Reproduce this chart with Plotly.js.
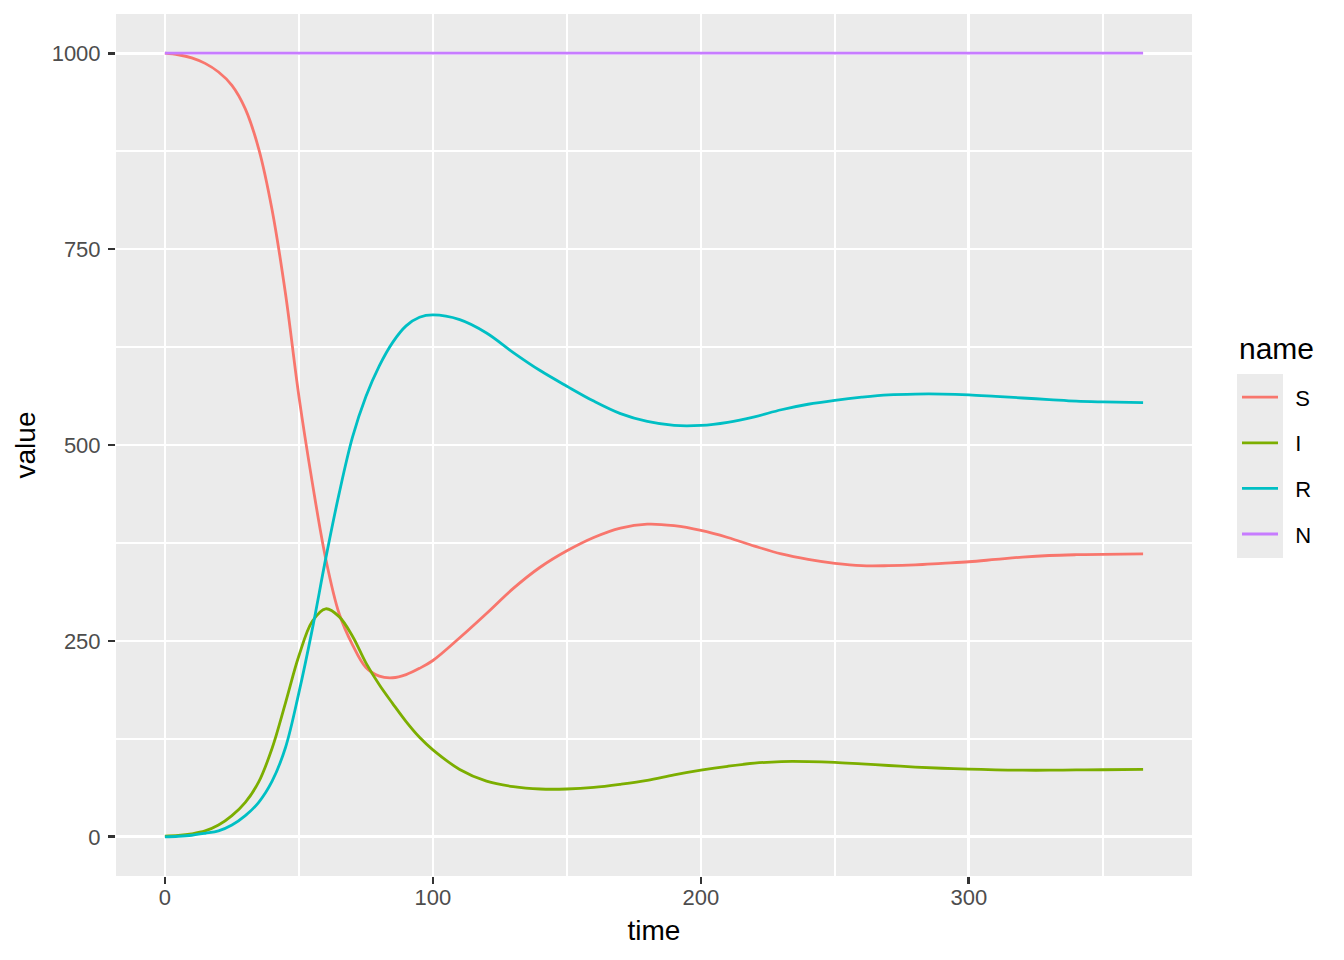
<!DOCTYPE html>
<html>
<head>
<meta charset="utf-8">
<script src="https://cdn.plot.ly/plotly-3.0.1.min.js"></script>
<style>html,body{margin:0;padding:0;background:#fff;}#chart{width:1344px;height:960px;}</style>
</head>
<body>
<div id="chart"></div>
<script>
const time = [0,5,10,15,20,25,30,35,40,45,50,55,60,65,70,75,80,85,90,95,100,110,120,130,140,150,160,170,180,190,200,210,220,230,240,250,260,270,280,290,300,310,320,330,340,350,365];
const S = [1000,998,994,987,976,959,929,878,800,693,562,452,355,285,245,216,205,203,207,215,225,254,285,317,344,365,382,394,399,397,391,382,371,361,354,349,346,346,347,349,351,354,357,359,360,360.5,361];
const I = [1,1.8,3.8,7.5,15,27,44,70,113,171,231,275,291,281,256,222,194,170,147,127,111,86,71,64,61,61,63,67,72,79,85,90,94,96,96,95,93,91,89,87.5,86.5,85.5,85,85,85.3,85.6,86];
const R = [0,0.7,2,4.5,7.5,15,27,44,71,114,184,265,355,438,510,562,601,631,652,663,666,660,643,618,595,575,556,540,530,525,525,529,536,545,552,557,561,564,565,565,564,562,560,558,556,555,554];
const N = [1000,1000,1000,1000,1000,1000,1000,1000,1000,1000,1000,1000,1000,1000,1000,1000,1000,1000,1000,1000,1000,1000,1000,1000,1000,1000,1000,1000,1000,1000,1000,1000,1000,1000,1000,1000,1000,1000,1000,1000,1000,1000,1000,1000,1000,1000,1000];
const seriesNames = ['S','I','R','N'];
const seriesValues = [S, I, R, N];
const seriesColors = ['#F8766D','#7CAE00','#00BFC4','#C77CFF'];
const xTicks = [0,100,200,300];
const yTicks = [0,250,500,750,1000];

const pad = '\u00A0\u00A0';
const traces = seriesNames.map((nm, i) => ({
  x: time, y: seriesValues[i], name: pad + nm, type: 'scatter', mode: 'lines',
  legendgroup: nm,
  line: {color: seriesColors[i], width: 2.8, shape: 'spline', smoothing: 1}
}));

const font = "'Liberation Sans', Arial, sans-serif";
const layout = {
  width: 1344, height: 960,
  margin: {l: 116, r: 152, t: 14, b: 84},
  paper_bgcolor: '#FFFFFF', plot_bgcolor: '#EBEBEB',
  font: {family: font, color: '#000000'},
  showlegend: true,
  legend: {
    x: (1237-116)/1076, y: 0.5796, xanchor: 'left', yanchor: 'top',
    bgcolor: 'rgba(0,0,0,0)', borderwidth: 0,
    font: {size: 22, color: '#000000', family: font},
    tracegroupgap: 14, traceorder: 'grouped', itemwidth: 36
  },
  annotations: [{
    text: 'name', xref: 'paper', yref: 'paper',
    x: (1237-116)/1076, y: (876-348)/862, xanchor: 'left', yanchor: 'middle',
    showarrow: false, font: {size: 30, color: '#000000', family: font}
  }],
  xaxis: {
    range: [-18.25, 383.25], tickvals: xTicks, ticktext: xTicks.map(String),
    showgrid: true, gridcolor: '#FFFFFF', gridwidth: 2.8, zeroline: false,
    ticks: 'outside', ticklen: 7, tickwidth: 2.8, tickcolor: '#333333',
    ticklabelstandoff: -5,
    tickfont: {size: 22, color: '#4D4D4D', family: font},
    minor: {tick0: 0, dtick: 50, showgrid: true, gridcolor: '#FFFFFF', gridwidth: 1.4, ticks: ''},
    showline: false, fixedrange: true,
    title: {text: 'time', font: {size: 28, color: '#000000', family: font}, standoff: 10}
  },
  yaxis: {
    range: [-50, 1050], tickvals: yTicks, ticktext: yTicks.map(String),
    showgrid: true, gridcolor: '#FFFFFF', gridwidth: 2.8, zeroline: false,
    ticks: 'outside', ticklen: 7, tickwidth: 2.8, tickcolor: '#333333',
    ticklabelstandoff: 3,
    tickfont: {size: 22, color: '#4D4D4D', family: font},
    minor: {tick0: 0, dtick: 125, showgrid: true, gridcolor: '#FFFFFF', gridwidth: 1.4, ticks: ''},
    showline: false, fixedrange: true,
    title: {text: 'value', font: {size: 28, color: '#000000', family: font}, standoff: 7}
  },
  shapes: [{
    type: 'rect', xref: 'paper', yref: 'paper', layer: 'below',
    x0: (1237-116)/1076, x1: (1283-116)/1076, y0: (876-558)/862, y1: (876-374)/862,
    fillcolor: '#EBEBEB', line: {width: 0}
  }]
};

Plotly.newPlot('chart', traces, layout, {displayModeBar: false, staticPlot: true});
</script>
</body>
</html>
